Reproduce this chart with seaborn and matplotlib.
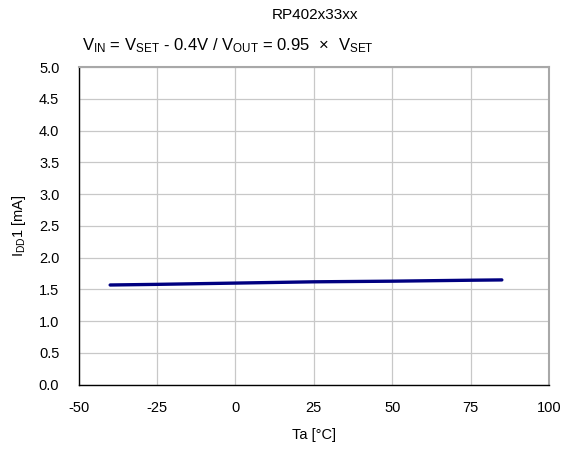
"""supply current vs temperature, RP402x33xx"""

import pandas as pd
import matplotlib.pyplot as plt
import seaborn as sns

temps = [-40, -25, 0, 25, 50, 75, 85]
idd1 = [1.57, 1.58, 1.60, 1.62, 1.63, 1.645, 1.65]

x_ticks = [-50, -25, 0, 25, 50, 75, 100]
y_ticks = [0.0, 0.5, 1.0, 1.5, 2.0, 2.5, 3.0, 3.5, 4.0, 4.5, 5.0]

df = pd.DataFrame({"Ta": temps, "IDD1": idd1})

sns.set_style("white")
plt.rcParams["font.family"] = ["Liberation Sans", "DejaVu Sans"]
plt.rcParams["mathtext.fontset"] = "custom"
plt.rcParams["mathtext.rm"] = "Liberation Sans"
plt.rcParams["mathtext.it"] = "Liberation Sans"
plt.rcParams["text.color"] = "black"
plt.rcParams["axes.labelcolor"] = "black"

fig = plt.figure(figsize=(5.67, 4.5), dpi=100)
ax = fig.add_axes([0.139, 0.145, 0.829, 0.706])

sns.lineplot(data=df, x="Ta", y="IDD1", ax=ax, color="#000080", linewidth=2.4)

ax.set_xlim(-50, 100)
ax.set_ylim(0, 5)
ax.set_xticks(x_ticks)
ax.set_yticks(y_ticks)
ax.set_xticklabels([str(t) for t in x_ticks])
ax.set_yticklabels([f"{t:.1f}" for t in y_ticks])
ax.grid(True, color="#c8c8c8", linewidth=0.9)
ax.set_axisbelow(True)
ax.tick_params(direction="in", length=4, width=0.8, labelsize=10.5,
               colors="black", labelcolor="black")
ax.tick_params(axis="x", pad=12)
ax.tick_params(axis="y", pad=14)

for side in ["left", "bottom"]:
    ax.spines[side].set_color("black")
    ax.spines[side].set_linewidth(1.0)
for side in ["top", "right"]:
    ax.spines[side].set_color("#a8a8a8")
    ax.spines[side].set_linewidth(1.5)

ax.set_xlabel("Ta [°C]", fontsize=10.5, labelpad=9, color="black")
ax.set_ylabel(r"I$_{\mathrm{DD}}$1 [mA]", fontsize=10.5, labelpad=8, color="black")

fig.text(0.556, 0.967, "RP402x33xx", ha="center", va="center", fontsize=11,
         color="black")
fig.text(0.145, 0.898,
         r"V$_{\mathrm{IN}}$ = V$_{\mathrm{SET}}$ - 0.4V / V$_{\mathrm{OUT}}$ = 0.95 $\,\times\,$ V$_{\mathrm{SET}}$",
         ha="left", va="center", fontsize=12, color="black")

plt.savefig("out.png", dpi=100)
plt.close()
